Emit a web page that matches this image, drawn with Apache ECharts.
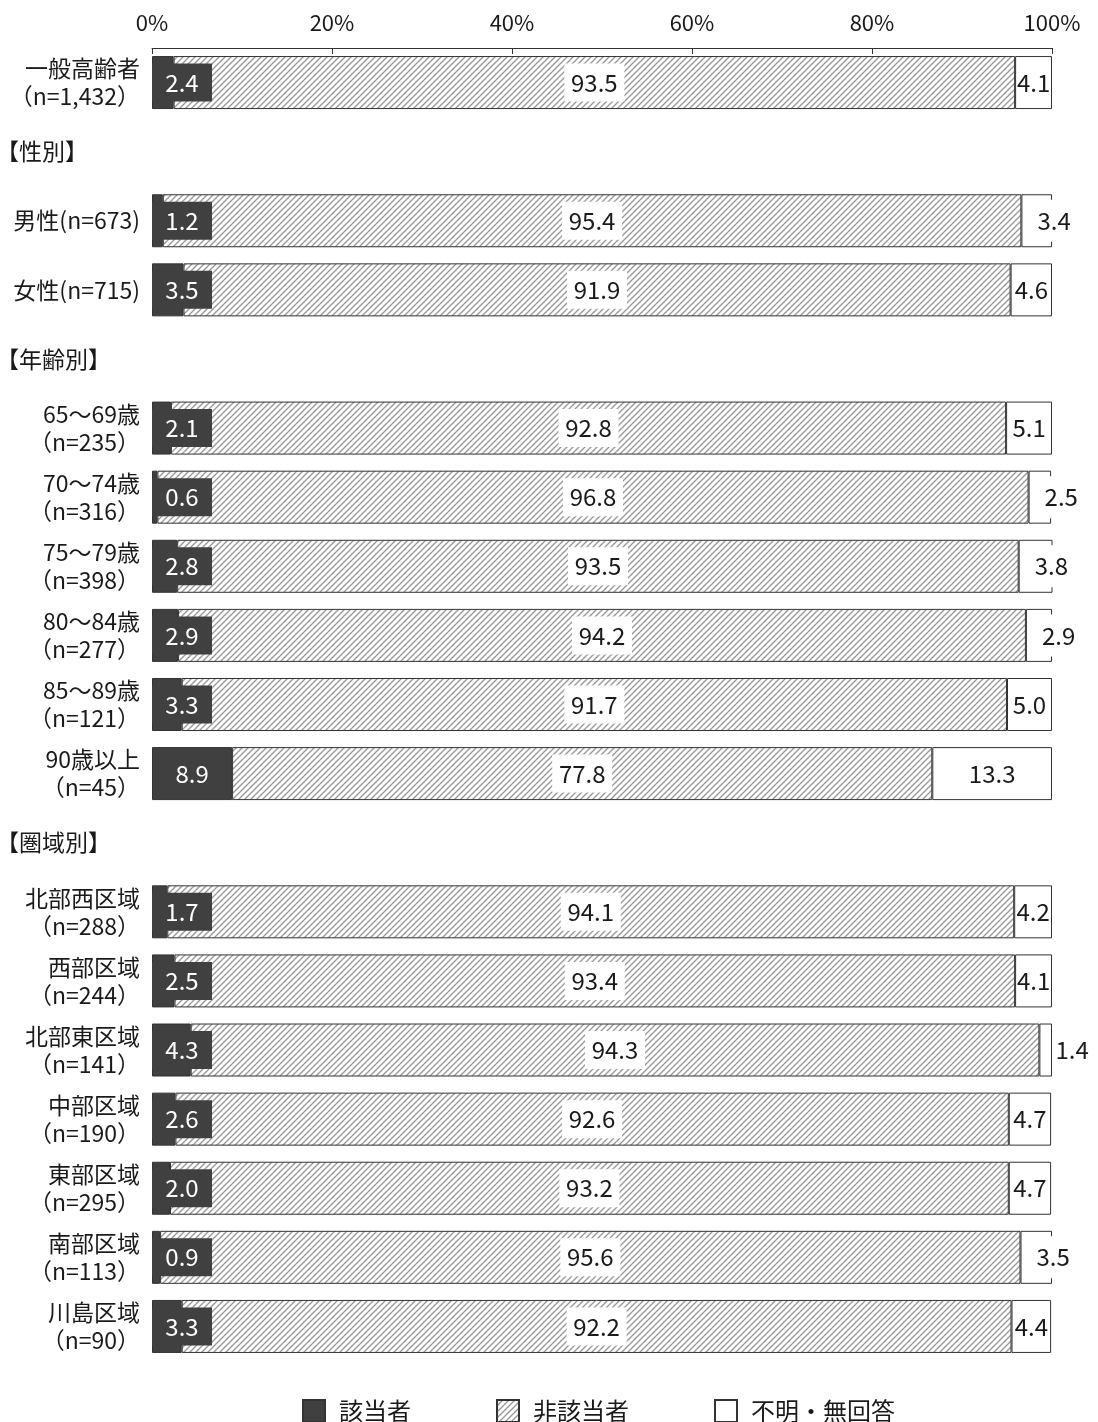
<!DOCTYPE html>
<html>
<head>
<meta charset="utf-8">
<script src="https://cdn.jsdelivr.net/npm/echarts@6/dist/echarts.min.js"></script>
<style>
html,body{margin:0;padding:0;background:#fff;}
#chart{width:1098px;height:1422px;}
</style>
</head>
<body>
<div id="chart"></div>
<script>
const categories = [
  '一般高齢者\n（n=1,432）',
  '【性別】',
  '男性(n=673)',
  '女性(n=715)',
  '【年齢別】',
  '65～69歳\n（n=235）',
  '70～74歳\n（n=316）',
  '75～79歳\n（n=398）',
  '80～84歳\n（n=277）',
  '85～89歳\n（n=121）',
  '90歳以上\n（n=45）',
  '【圏域別】',
  '北部西区域\n（n=288）',
  '西部区域\n（n=244）',
  '北部東区域\n（n=141）',
  '中部区域\n（n=190）',
  '東部区域\n（n=295）',
  '南部区域\n（n=113）',
  '川島区域\n（n=90）'
];
const seriesNames = ['該当者', '非該当者', '不明・無回答'];
const gaitou   = [2.4, '-', 1.2, 3.5, '-', 2.1, 0.6, 2.8, 2.9, 3.3, 8.9, '-', 1.7, 2.5, 4.3, 2.6, 2.0, 0.9, 3.3];
const higaitou = [93.5, '-', 95.4, 91.9, '-', 92.8, 96.8, 93.5, 94.2, 91.7, 77.8, '-', 94.1, 93.4, 94.3, 92.6, 93.2, 95.6, 92.2];
const fumei    = [4.1, '-', 3.4, 4.6, '-', 5.1, 2.5, 3.8, 2.9, 5.0, 13.3, '-', 4.2, 4.1, 1.4, 4.7, 4.7, 3.5, 4.4];
const tickValues = [0, 20, 40, 60, 80, 100];

const FONT = '"Noto Sans CJK JP", "Noto Sans", sans-serif';

// hatch pattern
const pc = document.createElement('canvas');
pc.width = 6; pc.height = 6;
const pctx = pc.getContext('2d');
pctx.fillStyle = '#fff';
pctx.fillRect(0, 0, 6, 6);
pctx.strokeStyle = '#9a9a9a';
pctx.lineWidth = 1.4;
pctx.beginPath();
pctx.moveTo(-1, 7); pctx.lineTo(7, -1);
pctx.moveTo(-4, 4); pctx.lineTo(4, -4);
pctx.moveTo(2, 10); pctx.lineTo(10, 2);
pctx.stroke();
const hatch = { image: pc, repeat: 'repeat' };

const fmt = v => (typeof v === 'number' ? v.toFixed(1) : '');

const gaitouData = gaitou.map(v => {
  if (typeof v !== 'number') return v;
  const wide = v >= 8;
  return {
    value: v,
    label: wide ? { position: 'inside', offset: [0, 0] } : { position: 'insideLeft', distance: 0, offset: [30, 0] }
  };
});
const fumeiData = fumei.map(v => {
  if (typeof v !== 'number') return v;
  const small = v < 4;
  return {
    value: v,
    label: small
      ? { position: 'insideLeft', distance: 0, offset: [13, 0], backgroundColor: '#fff', padding: [0, 3], lineHeight: 42, height: 42 }
      : { position: 'inside' }
  };
});

const chart = echarts.init(document.getElementById('chart'));
chart.setOption({
  backgroundColor: '#fff',
  animation: false,
  textStyle: { fontFamily: FONT },
  grid: { left: 152, right: 46, top: 48, height: 1313, containLabel: false, outerBoundsMode: 'none' },
  legend: {
    data: seriesNames,
    left: 297,
    top: 1394,
    itemWidth: 22,
    itemHeight: 22,
    itemGap: 85,
    icon: 'rect',
    textStyle: { fontFamily: FONT, fontSize: 24, color: '#1a1a1a', padding: [0, 0, 0, 9] }
  },
  xAxis: {
    type: 'value',
    position: 'top',
    min: 0, max: 100, interval: 20,
    axisLine: { show: true, lineStyle: { color: '#333', width: 1 } },
    axisTick: { show: true, inside: true, length: 6, lineStyle: { color: '#333' } },
    splitLine: { show: false },
    axisLabel: {
      margin: 14,
      fontSize: 22,
      color: '#1a1a1a',
      fontFamily: FONT,
      formatter: v => tickValues.includes(v) ? v + '%' : ''
    }
  },
  yAxis: {
    type: 'category',
    inverse: true,
    data: categories,
    axisLine: { show: false },
    axisTick: { show: false },
    axisLabel: {
      margin: 12,
      fontSize: 23,
      lineHeight: 28,
      color: '#1a1a1a',
      fontFamily: FONT,
      formatter: v => v.startsWith('【') ? '{h|' + v + '}' : v,
      rich: {
        h: { width: 144, align: 'left', fontSize: 23, fontFamily: FONT, color: '#1a1a1a' }
      }
    }
  },
  series: [
    {
      name: seriesNames[0], type: 'bar', stack: 'a', barWidth: 53,
      data: gaitouData,
      itemStyle: { color: '#404040', borderColor: '#333', borderWidth: 1 },
      label: {
        show: true, formatter: p => fmt(p.value),
        color: '#fff', fontSize: 24, fontFamily: FONT,
        backgroundColor: '#404040', width: 60, lineHeight: 38, height: 38, align: 'center', verticalAlign: 'middle'
      }
    },
    {
      name: seriesNames[1], type: 'bar', stack: 'a', barWidth: 53,
      data: higaitou,
      itemStyle: { color: hatch, borderColor: '#333', borderWidth: 1 },
      label: {
        show: true, position: 'inside', formatter: p => fmt(p.value),
        color: '#1a1a1a', fontSize: 24, fontFamily: FONT,
        backgroundColor: '#fff', width: 60, lineHeight: 38, height: 38, align: 'center', verticalAlign: 'middle'
      }
    },
    {
      name: seriesNames[2], type: 'bar', stack: 'a', barWidth: 53,
      data: fumeiData,
      itemStyle: { color: '#fff', borderColor: '#333', borderWidth: 1 },
      label: {
        show: true, formatter: p => fmt(p.value),
        color: '#1a1a1a', fontSize: 24, fontFamily: FONT
      }
    }
  ]
});
</script>
</body>
</html>
